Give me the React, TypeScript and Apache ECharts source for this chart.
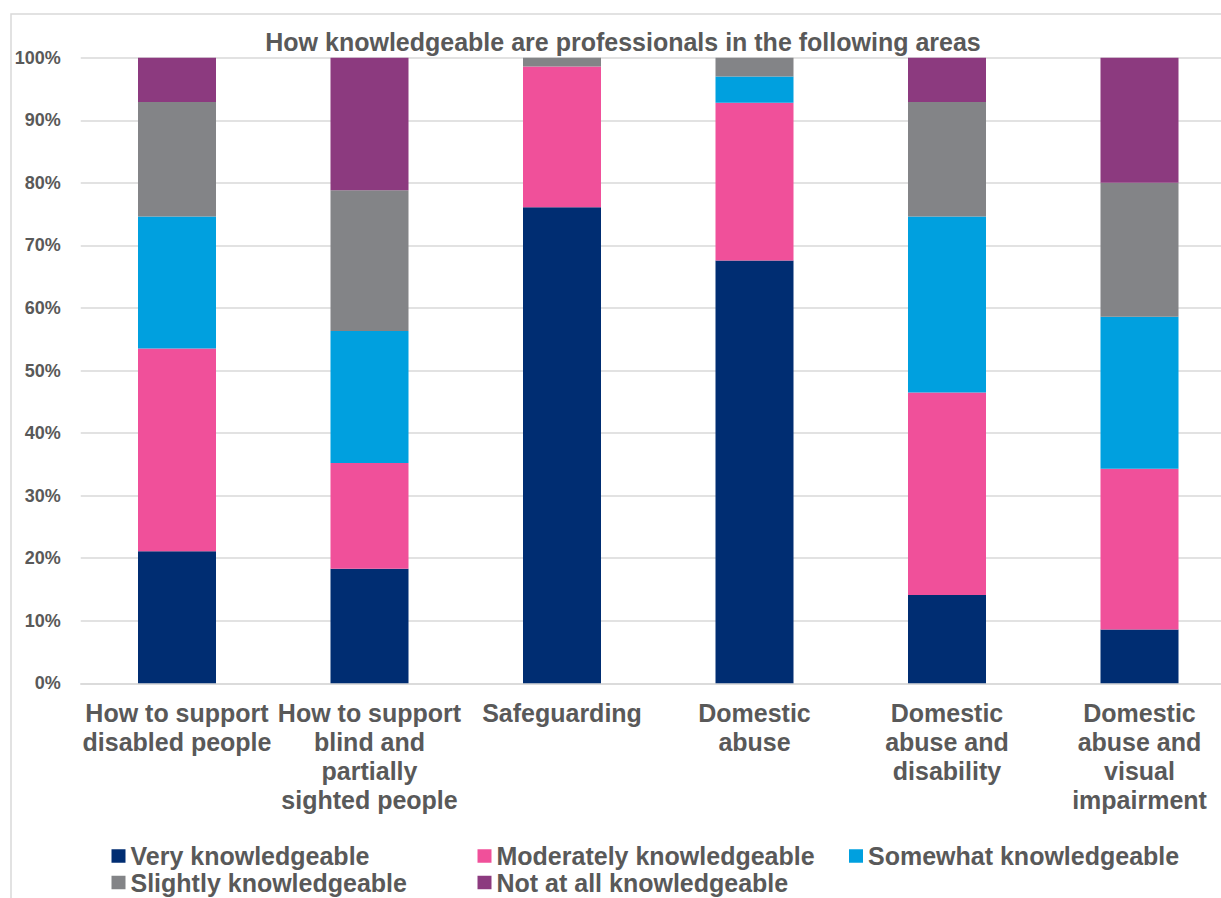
import React, { useEffect, useRef } from "react";
import * as echarts from "echarts";

const titleText = "How knowledgeable are professionals in the following areas";

const categories = [
  "How to support\ndisabled people",
  "How to support\nblind and\npartially\nsighted people",
  "Safeguarding",
  "Domestic\nabuse",
  "Domestic\nabuse and\ndisability",
  "Domestic\nabuse and\nvisual\nimpairment",
];

const seriesNames = [
  "Very knowledgeable",
  "Moderately knowledgeable",
  "Somewhat knowledgeable",
  "Slightly knowledgeable",
  "Not at all knowledgeable",
];

const veryValues = [21.1, 18.3, 76.1, 67.6, 14.1, 8.6];
const moderatelyValues = [32.4, 16.9, 22.5, 25.2, 32.4, 25.7];
const somewhatValues = [21.1, 21.1, 0, 4.2, 28.1, 24.3];
const slightlyValues = [18.3, 22.5, 1.4, 3.0, 18.3, 21.4];
const notAtAllValues = [7.1, 21.2, 0, 0, 7.1, 20.0];

const yTicks = { min: 0, max: 100, interval: 10 };

const colors = ["#002D72", "#F0509A", "#00A0DF", "#838487", "#8C3A7F"];

const FONT = "'Liberation Sans', Arial, sans-serif";
const TEXT_COLOR = "#595959";

export default function App() {
  const ref = useRef<HTMLDivElement>(null);

  useEffect(() => {
    if (!ref.current) return;
    const chart = echarts.init(ref.current, undefined, { renderer: "svg" });
    const valuesList = [veryValues, moderatelyValues, somewhatValues, slightlyValues, notAtAllValues];

    const legendPos = [
      { left: 111.5, top: 842.5 },
      { left: 477.5, top: 842.5 },
      { left: 849, top: 842.5 },
      { left: 111.5, top: 869 },
      { left: 477.5, top: 869 },
    ];

    const option: any = {
      animation: false,
      backgroundColor: "#ffffff",
      title: {
        text: titleText,
        left: 623,
        top: 27,
        textAlign: "center",
        padding: 0,
        textStyle: {
          fontFamily: FONT,
          fontSize: 25,
          fontWeight: "bold",
          color: TEXT_COLOR,
          lineHeight: 30,
        },
      },
      graphic: [
        {
          type: "rect",
          shape: { x: 11, y: 14, width: 1400, height: 1000 },
          style: { fill: "none", stroke: "#d9d9d9", lineWidth: 1.5 },
          silent: true,
          z: -1,
        },
      ],
      legend: seriesNames.map((name, i) => ({
        data: [name],
        left: legendPos[i].left,
        top: legendPos[i].top,
        padding: 0,
        itemWidth: 14,
        itemHeight: 13.5,
        icon: "rect",
        selectedMode: false,
        textStyle: {
          fontFamily: FONT,
          fontSize: 25,
          fontWeight: "bold",
          color: TEXT_COLOR,
          lineHeight: 27,
        },
      })),
      grid: {
        left: 80.75,
        top: 57.7,
        width: 1155,
        height: 625.6,
        containLabel: false,
      },
      xAxis: {
        type: "category",
        data: categories,
        axisTick: { show: false },
        axisLine: { show: true, lineStyle: { color: "#d9d9d9", width: 1.5 } },
        axisLabel: {
          interval: 0,
          margin: 15,
          fontFamily: FONT,
          fontSize: 25,
          fontWeight: "bold",
          color: TEXT_COLOR,
          lineHeight: 29,
          align: "center",
        },
      },
      yAxis: {
        type: "value",
        min: yTicks.min,
        max: yTicks.max,
        interval: yTicks.interval,
        axisLine: { show: false },
        axisTick: { show: false },
        splitLine: { lineStyle: { color: "#d9d9d9", width: 1.5 } },
        axisLabel: {
          formatter: "{value}%",
          margin: 20,
          fontFamily: FONT,
          fontSize: 18,
          fontWeight: "bold",
          color: TEXT_COLOR,
        },
      },
      series: seriesNames.map((name, i) => ({
        name,
        type: "bar",
        stack: "total",
        barWidth: 78,
        data: valuesList[i],
        itemStyle: { color: colors[i] },
        emphasis: { disabled: true },
      })),
    };

    chart.setOption(option);
    return () => {
      chart.dispose();
    };
  }, []);

  return (
    <div
      style={{
        position: "fixed",
        left: 0,
        top: 0,
        width: 1221,
        height: 898,
        overflow: "hidden",
        background: "#ffffff",
      }}
    >
      <div ref={ref} style={{ position: "absolute", left: 0, top: 0, width: 1260, height: 898 }} />
    </div>
  );
}
